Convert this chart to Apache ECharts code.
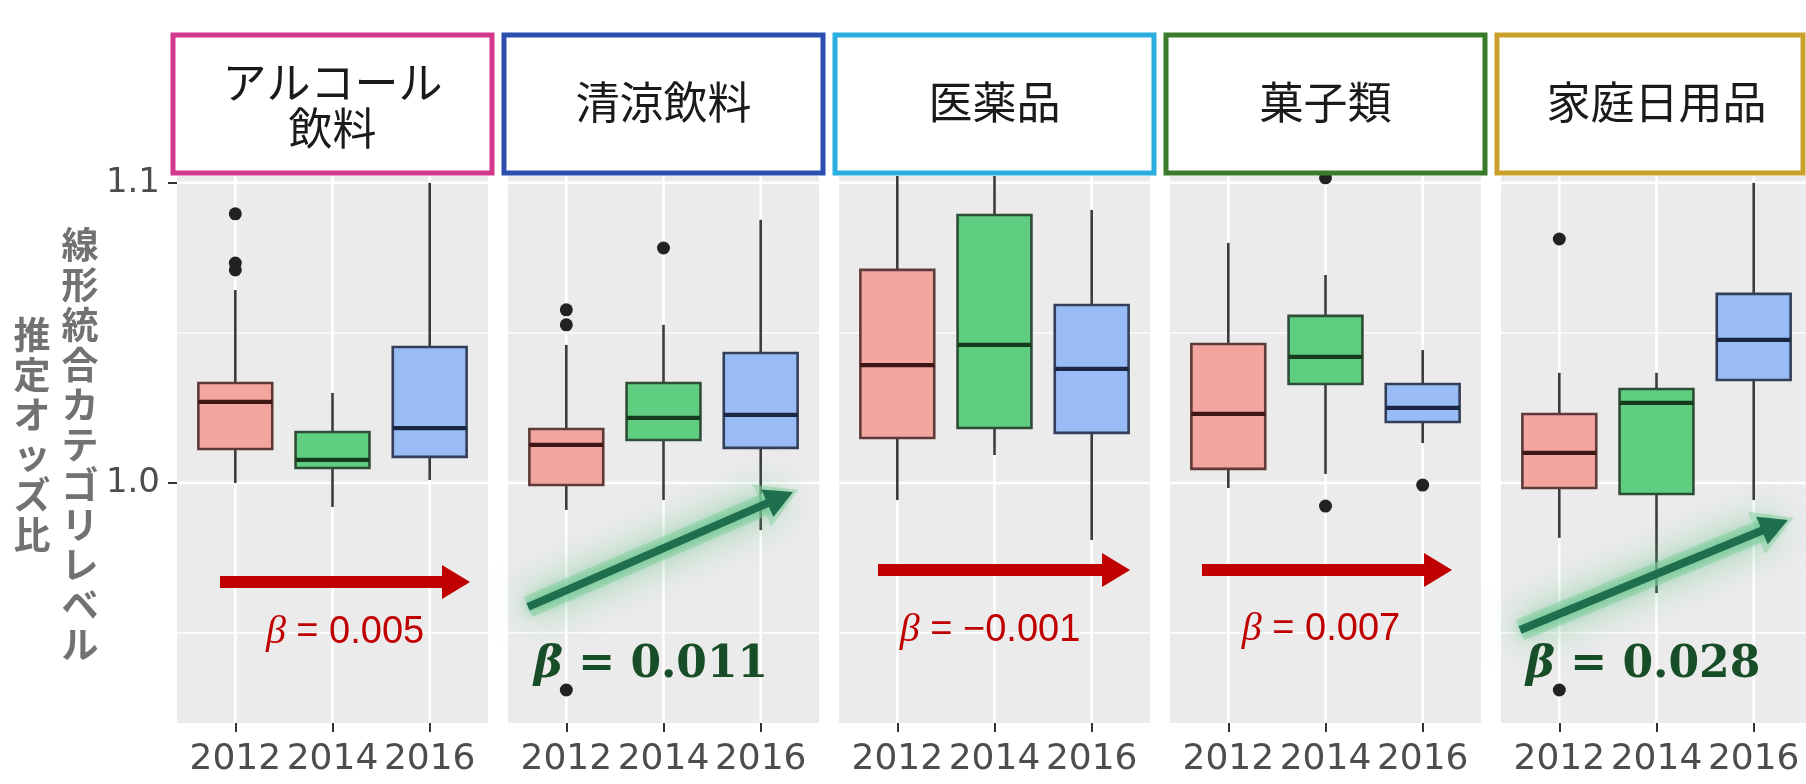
<!DOCTYPE html>
<html>
<head>
<meta charset="utf-8">
<script src="https://cdn.jsdelivr.net/npm/echarts@6/dist/echarts.min.js"></script>
<style>
  html, body { margin: 0; padding: 0; background: #ffffff; }
  #chart { width: 1806px; height: 784px; }
</style>
</head>
<body>
<div id="chart"></div>
<script>
// ---- data ----
const categories = ['アルコール\n飲料', '清涼飲料', '医薬品', '菓子類', '家庭日用品'];
const years = ['2012', '2014', '2016'];

// box statistics per year: [lower whisker, Q1, median, Q3, upper whisker]
const alcoholStats = [
  [1.0000, 1.0113, 1.0270, 1.0333, 1.0643],
  [0.9920, 1.0050, 1.0077, 1.0170, 1.0300],
  [1.0010, 1.0087, 1.0183, 1.0453, 1.1000]
];
const softDrinkStats = [
  [0.9910, 0.9993, 1.0127, 1.0180, 1.0460],
  [0.9943, 1.0143, 1.0217, 1.0333, 1.0527],
  [0.9843, 1.0117, 1.0227, 1.0433, 1.0877]
];
const medicineStats = [
  [0.9943, 1.0150, 1.0393, 1.0710, 1.1100],
  [1.0093, 1.0183, 1.0460, 1.0893, 1.1100],
  [0.9810, 1.0167, 1.0380, 1.0593, 1.0910]
];
const snackStats = [
  [0.9983, 1.0047, 1.0230, 1.0463, 1.0800],
  [1.0030, 1.0330, 1.0420, 1.0557, 1.0693],
  [1.0133, 1.0203, 1.0250, 1.0330, 1.0443]
];
const householdStats = [
  [0.9817, 0.9983, 1.0100, 1.0230, 1.0367],
  [0.9633, 0.9963, 1.0267, 1.0313, 1.0367],
  [0.9943, 1.0343, 1.0477, 1.0630, 1.1000]
];

// outliers: [year index, odds ratio]
const alcoholOutliers = [[0, 1.0897], [0, 1.0733], [0, 1.0710]];
const softDrinkOutliers = [[0, 1.0577], [0, 1.0527], [0, 0.9310], [1, 1.0783]];
const medicineOutliers = [];
const snackOutliers = [[1, 1.1017], [1, 0.9923], [2, 0.9993]];
const householdOutliers = [[0, 1.0813], [0, 0.9310]];

// trend coefficients
const betaValues = ['0.005', '0.011', '−0.001', '0.007', '0.028'];
const betaSignificant = [false, true, false, false, true];

// trend arrows [start, end] in axis units (x: year slot 1..3, y: odds ratio)
const trendArrows = [
  [[0.842, 0.9670], [3.271, 0.9670]],
  [[0.606, 0.9587], [3.201, 0.9951]],
  [[0.801, 0.9710], [3.251, 0.9710]],
  [[0.729, 0.9710], [3.158, 0.9710]],
  [[0.596, 0.9510], [3.219, 0.9859]]
];
// where each β label sits, same axis units
const betaLabelAt = [
  [2.129, 0.9503],
  [1.871, 0.9393],
  [1.954, 0.9507],
  [1.954, 0.9510],
  [1.861, 0.9393]
];

const yTickValues = [1.0, 1.1];
const yMinorValues = [0.95, 1.05];
const yTitleRight = '線形統合カテゴリレベル';
const yTitleLeft = '推定オッズ比';

const statsByPanel = [alcoholStats, softDrinkStats, medicineStats, snackStats, householdStats];
const outliersByPanel = [alcoholOutliers, softDrinkOutliers, medicineOutliers, snackOutliers, householdOutliers];

// ---- layout & style ----
const PANEL_LEFT0 = 177, PANEL_STEP = 331, PANEL_W = 311;
const PANEL_TOP = 176, PANEL_H = 547;
const X_MIN = 0.4, X_MAX = 3.6, Y_MIN = 0.92, Y_MAX = 1.1023;
const BOX_WIDTH = 0.76;
const stripColors = ['#d4388c', '#2b4fae', '#2aaee0', '#3a7a2b', '#c9a12a'];
const yearStyles = [
  { fill: '#f3a59f', edge: '#5e3a38', median: '#3e1614' },
  { fill: '#5fce80', edge: '#2f4d36', median: '#163a1e' },
  { fill: '#99bcf6', edge: '#333f58', median: '#1b2742' }
];
const RED = '#c00000';
const GREEN_ARROW = '#1f6e4e';
const GREEN_TEXT = '#174d27';
const TICK_FONT = '"DejaVu Sans", Verdana, sans-serif';

const chart = echarts.init(document.getElementById('chart'), null, { renderer: 'canvas' });

const grids = [], xAxes = [], yAxes = [], series = [], graphics = [];

function hGridRenderer(params, api) {
  const v = api.value(1);
  const a = api.coord([X_MIN, v]), b = api.coord([X_MAX, v]);
  const major = yTickValues.some(t => Math.abs(t - v) < 1e-9);
  return { type: 'line', shape: { x1: a[0], y1: a[1], x2: b[0], y2: b[1] },
           style: { stroke: '#ffffff', lineWidth: major ? 2.6 : 1.3 } };
}
function vGridRenderer(params, api) {
  const v = api.value(0);
  const a = api.coord([v, Y_MIN]), b = api.coord([v, Y_MAX]);
  return { type: 'line', shape: { x1: a[0], y1: a[1], x2: b[0], y2: b[1] },
           style: { stroke: '#ffffff', lineWidth: 2.6 } };
}
function boxRenderer(params, api) {
  const x = api.value(0);
  const lo = api.value(1), q1 = api.value(2), med = api.value(3), q3 = api.value(4), hi = api.value(5);
  const st = yearStyles[params.dataIndex];
  const h = BOX_WIDTH / 2;
  const tl = api.coord([x - h, q3]), br = api.coord([x + h, q1]);
  const pHi = api.coord([x, hi]), pQ3 = api.coord([x, q3]);
  const pQ1 = api.coord([x, q1]), pLo = api.coord([x, lo]);
  const mL = api.coord([x - h, med]), mR = api.coord([x + h, med]);
  const whisker = { stroke: '#3c3c3c', lineWidth: 2.6 };
  return {
    type: 'group',
    children: [
      { type: 'line', shape: { x1: pHi[0], y1: pHi[1], x2: pQ3[0], y2: pQ3[1] }, style: whisker },
      { type: 'line', shape: { x1: pQ1[0], y1: pQ1[1], x2: pLo[0], y2: pLo[1] }, style: whisker },
      { type: 'rect', shape: { x: tl[0], y: tl[1], width: br[0] - tl[0], height: br[1] - tl[1] },
        style: { fill: st.fill, stroke: st.edge, lineWidth: 2.6 } },
      { type: 'line', shape: { x1: mL[0], y1: mL[1], x2: mR[0], y2: mR[1] },
        style: { stroke: st.median, lineWidth: 4.2 } }
    ]
  };
}

categories.forEach((cat, i) => {
  const left = PANEL_LEFT0 + PANEL_STEP * i;
  grids.push({
    left: left, top: PANEL_TOP, width: PANEL_W, height: PANEL_H,
    containLabel: false, outerBoundsMode: 'none',
    show: true, backgroundColor: '#ebebeb', borderWidth: 0
  });
  xAxes.push({
    type: 'value', gridIndex: i, min: X_MIN, max: X_MAX,
    axisLine: { show: false },
    splitLine: { show: false },
    axisTick: { show: true, customValues: [1, 2, 3], length: 9, lineStyle: { color: '#333333', width: 2 } },
    axisLabel: {
      show: true, customValues: [1, 2, 3], margin: 19,
      formatter: v => years[Math.round(v) - 1] || '',
      fontSize: 36, color: '#4d4d4d', fontFamily: TICK_FONT
    }
  });
  yAxes.push({
    type: 'value', gridIndex: i, min: Y_MIN, max: Y_MAX,
    axisLine: { show: false },
    splitLine: { show: false },
    axisTick: { show: i === 0, customValues: yTickValues, length: 9, lineStyle: { color: '#333333', width: 2 } },
    axisLabel: {
      show: i === 0, customValues: yTickValues, margin: 17,
      formatter: v => v.toFixed(1),
      fontSize: 34, color: '#4d4d4d', fontFamily: TICK_FONT
    }
  });

  // panel grid lines
  series.push({
    type: 'custom', xAxisIndex: i, yAxisIndex: i, z: 1, silent: true, animation: false,
    renderItem: hGridRenderer,
    data: yMinorValues.concat(yTickValues).map(v => [2, v])
  });
  series.push({
    type: 'custom', xAxisIndex: i, yAxisIndex: i, z: 1, silent: true, animation: false,
    renderItem: vGridRenderer,
    data: years.map((y, k) => [k + 1, 1.0])
  });

  // boxes
  series.push({
    type: 'custom', xAxisIndex: i, yAxisIndex: i, z: 3, clip: true, animation: false,
    renderItem: boxRenderer,
    encode: { x: 0, y: [1, 2, 3, 4, 5] },
    data: statsByPanel[i].map((s, k) => [k + 1].concat(s))
  });

  // outliers
  series.push({
    type: 'scatter', xAxisIndex: i, yAxisIndex: i, z: 4, animation: false,
    symbolSize: 13, itemStyle: { color: '#222222', opacity: 1 },
    data: outliersByPanel[i].map(o => [o[0] + 1, o[1]])
  });

  // β label with trend arrow
  const sig = betaSignificant[i];
  const arrow = trendArrows[i];
  const richStyles = sig ? {
    b: { fontFamily: 'DejaVu Serif', fontStyle: 'italic', fontWeight: 'bold', fontSize: 44, color: GREEN_TEXT,
         textBorderWidth: 0 },
    t: { fontFamily: 'DejaVu Serif', fontWeight: 'bold', fontSize: 44, color: GREEN_TEXT, textBorderWidth: 0 }
  } : {
    b: { fontFamily: 'Liberation Serif', fontStyle: 'italic', fontSize: 40, color: RED, textBorderWidth: 0 },
    t: { fontFamily: 'Liberation Sans', fontSize: 38, color: RED, textBorderWidth: 0 }
  };
  const arrowLines = sig ? [
    // soft glow underneath
    [{ coord: arrow[0], symbol: 'none',
       lineStyle: { color: 'rgba(140,212,165,0.55)', width: 22, shadowBlur: 36, shadowColor: 'rgba(80,190,125,1)' } },
     { coord: arrow[1], symbol: 'triangle', symbolSize: [46, 40] }],
    // the arrow itself
    [{ coord: arrow[0], symbol: 'none',
       lineStyle: { color: GREEN_ARROW, width: 8, shadowBlur: 12, shadowColor: 'rgba(70,180,115,0.8)' } },
     { coord: arrow[1], symbol: 'triangle', symbolSize: [30, 28] }]
  ] : [
    [{ coord: arrow[0], symbol: 'none', lineStyle: { color: RED, width: 12 } },
     { coord: arrow[1], symbol: 'triangle', symbolSize: [34, 28] }]
  ];
  series.push({
    type: 'scatter', xAxisIndex: i, yAxisIndex: i, z: 6, clip: false, animation: false, silent: true,
    symbolSize: 1, itemStyle: { color: 'rgba(0,0,0,0)' },
    data: [betaLabelAt[i]],
    label: {
      show: true, position: 'inside', textBorderWidth: 0, opacity: 1,
      formatter: () => '{b|β}{t| = ' + betaValues[i] + '}',
      rich: richStyles
    },
    markLine: {
      silent: true, animation: false,
      symbol: ['none', 'triangle'],
      label: { show: false },
      lineStyle: { type: 'solid', opacity: 1 },
      data: arrowLines
    }
  });

  // facet strip
  const sx = left - 4;
  const sw = Math.min(PANEL_W + 8, 1803 - sx);
  graphics.push({
    type: 'rect', z: 100, silent: true,
    shape: { x: sx, y: 35, width: sw, height: 138 },
    style: { fill: '#ffffff', stroke: stripColors[i], lineWidth: 5 }
  });
  graphics.push({
    type: 'text', z: 101, silent: true,
    x: left + PANEL_W / 2, y: cat.indexOf('\n') >= 0 ? 105 : 102,
    style: {
      text: cat, align: 'center', verticalAlign: 'middle',
      font: '44px "Noto Sans CJK JP", sans-serif', lineHeight: 46, fill: '#1a1a1a'
    }
  });
});

// vertical y-axis title, two columns
graphics.push({
  type: 'text', z: 101, silent: true, x: 80, y: 225,
  style: {
    text: yTitleRight.split('').join('\n'), align: 'center', verticalAlign: 'top',
    font: 'bold 37px "Noto Sans CJK JP", sans-serif', lineHeight: 40, fill: '#727272'
  }
});
graphics.push({
  type: 'text', z: 101, silent: true, x: 32, y: 315,
  style: {
    text: yTitleLeft.split('').join('\n'), align: 'center', verticalAlign: 'top',
    font: 'bold 37px "Noto Sans CJK JP", sans-serif', lineHeight: 40, fill: '#727272'
  }
});

chart.setOption({
  animation: false,
  backgroundColor: '#ffffff',
  grid: grids,
  xAxis: xAxes,
  yAxis: yAxes,
  series: series,
  graphic: { elements: graphics }
});
</script>
</body>
</html>
